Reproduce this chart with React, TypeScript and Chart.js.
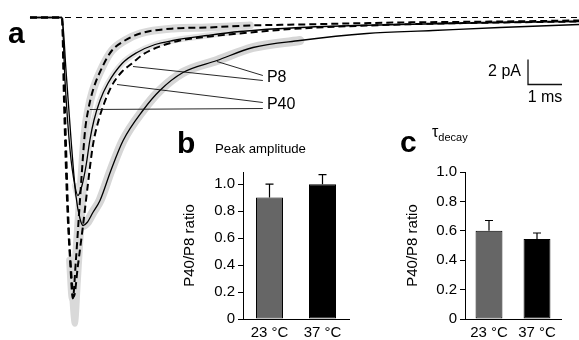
import React, { useEffect, useRef } from "react";
import { Chart, registerables } from "chart.js";
Chart.register(...registerables);

const FONT = "'Liberation Sans', Arial, Helvetica, sans-serif";

// ---------- Panel a: mean EPSC traces (time in ms from trace start, current in pA) ----------
// P8, 23 °C (solid, slow)
const p8At23T = [0, 0.94, 1.06, 1.21, 1.35, 1.47, 1.56, 1.68, 1.85, 2.06, 2.38, 2.74, 3.32, 3.82, 4.5, 5.5, 6.56, 7.94, 9.91, 11.85, 13.82, 16.15];
const p8At23I = [0, 0, -4.24, -9.84, -14.24, -16.08, -16.64, -16.4, -15.6, -14.64, -12.24, -9.84, -7.44, -5.84, -4.4, -3.44, -2.4, -1.84, -1.28, -1.04, -0.8, -0.56];
// P40, 23 °C (solid)
const p40At23T = [0, 0.94, 1.03, 1.18, 1.32, 1.41, 1.53, 1.65, 1.76, 1.88, 2.06, 2.29, 2.71, 3.15, 3.68, 4.21, 5.21, 6.18, 7.94, 10.88, 13.82, 16.15];
const p40At23I = [0, 0, -5.04, -10.64, -13.44, -14.24, -13.44, -11.84, -9.84, -8.24, -6.64, -5.28, -3.68, -2.8, -2.16, -1.84, -1.44, -1.12, -0.8, -0.56, -0.4, -0.32];
// P8, 37 °C (dashed)
const p8At37T = [0, 0.94, 1.03, 1.12, 1.21, 1.29, 1.41, 1.56, 1.71, 1.85, 2.0, 2.18, 2.41, 2.71, 3.0, 3.32, 3.82, 4.41, 5.29, 6.47, 7.94, 10.88, 13.82, 16.15];
const p8At37I = [0, 0, -7.44, -15.44, -20.24, -22.32, -19.84, -16.64, -13.2, -10.24, -8.4, -6.88, -5.44, -4.32, -3.68, -2.96, -2.32, -1.84, -1.52, -1.2, -0.88, -0.56, -0.4, -0.32];
// P40, 37 °C (dashed, fastest)
const p40At37T = [0, 0.94, 1.0, 1.09, 1.18, 1.26, 1.35, 1.44, 1.53, 1.62, 1.71, 1.85, 2.15, 2.41, 2.79, 3.24, 4.21, 5.21, 6.47, 7.94, 10.88, 13.82, 16.15];
const p40At37I = [0, 0, -6.64, -14.64, -19.44, -22.48, -19.44, -15.84, -12.24, -9.04, -7.44, -5.84, -3.84, -2.64, -1.84, -1.28, -0.88, -0.8, -0.64, -0.56, -0.4, -0.32, -0.24];
// SEM envelope tip of the 37 °C traces
const semTipT = [1.15, 1.22, 1.32, 1.41, 1.5, 1.6, 1.7];
const semTipI = [-17.5, -21.5, -24.5, -21.0, -17.0, -13.0, -9.5];
// SEM envelope extents (ms) for the shaded traces
const semEndP8At23 = 9.5;
const semEndP40At23 = 6.5;
const semEndP40At37 = 7.5;

const baselineT = [1.03, 16.15];
const baselineI = [0, 0];

const pointerNames = ["P8", "P40"];
const pointerLabelT = [6.97, 6.97];
const pointerLabelI = [-4.84, -6.96];
const p8PointerT = [[5.5, 6.85], [3.03, 6.85]];
const p8PointerI = [[-3.52, -4.64], [-3.92, -5.04]];
const p40PointerT = [[2.56, 6.85], [1.76, 6.85]];
const p40PointerI = [[-5.36, -6.8], [-7.36, -7.28]];

const scaleBarT = [14.65, 14.65, 15.65];
const scaleBarI = [-3.36, -5.36, -5.36];
const scaleBarLabels = ["2 pA", "1 ms"];

const timeRange = [-0.882, 16.15];
const currentRange = [-25.8, 1.4];

// ---------- Panels b, c ----------
const temps = ["23 °C", "37 °C"];
const peakRatio = [0.9, 1.0];
const peakErr = [0.1, 0.07];
const tauRatio = [0.6, 0.545];
const tauErr = [0.07, 0.04];
const ratioTicks = [0, 0.2, 0.4, 0.6, 0.8, 1.0];
const barColors = ["#666666", "#000000"];

const pts = (t: number[], i: number[]) => t.map((v, k) => ({ x: v, y: i[k] }));

function TraceChart() {
  const ref = useRef<HTMLCanvasElement>(null);
  useEffect(() => {
    if (!ref.current) return;
    const trace = (t: number[], i: number[], dashed: boolean) => ({
      data: pts(t, i),
      borderColor: "#000",
      borderWidth: dashed ? 2 : 1.3,
      borderDash: dashed ? [7, 4] : [],
      pointRadius: 0,
      fill: false,
      cubicInterpolationMode: "monotone" as const,
    });
    const band = (t: number[], i: number[], w: number, c: string, tEnd: number) => {
      const peakIdx = i.indexOf(Math.min(...i));
      const data = pts(t, i).filter((p, k) => k >= peakIdx - 1 && p.x <= tEnd);
      return {
        data,
        borderColor: c,
        borderWidth: w,
        pointRadius: 0,
        fill: false,
        borderCapStyle: "round" as const,
        borderJoinStyle: "round" as const,
        cubicInterpolationMode: "monotone" as const,
      };
    };
    const thin = (t: number[], i: number[], w: number, dash: number[] = [], c = "#111") => ({
      data: pts(t, i),
      borderColor: c,
      borderWidth: w,
      borderDash: dash,
      pointRadius: 0,
      fill: false,
      tension: 0,
    });
    const labelsPlugin = {
      id: "traceLabels",
      afterDraw(chart: any) {
        const { ctx, scales } = chart;
        const xs = scales.x, ys = scales.y;
        ctx.save();
        ctx.fillStyle = "#000";
        ctx.font = `16px ${FONT}`;
        ctx.textBaseline = "middle";
        ctx.textAlign = "left";
        pointerNames.forEach((n, k) => {
          ctx.fillText(n, xs.getPixelForValue(pointerLabelT[k]), ys.getPixelForValue(pointerLabelI[k]));
        });
        ctx.textAlign = "right";
        ctx.fillText(
          scaleBarLabels[0],
          xs.getPixelForValue(scaleBarT[0]) - 7,
          ys.getPixelForValue((scaleBarI[0] + scaleBarI[1]) / 2)
        );
        ctx.textAlign = "center";
        ctx.textBaseline = "top";
        ctx.fillText(
          scaleBarLabels[1],
          xs.getPixelForValue((scaleBarT[1] + scaleBarT[2]) / 2),
          ys.getPixelForValue(scaleBarI[1]) + 5
        );
        ctx.restore();
      },
    };
    const chart = new Chart(ref.current, {
      type: "line",
      data: {
        datasets: [
          thin(baselineT, baselineI, 1, [6, 5], "#000"),
          ...p8PointerT.map((t, k) => thin(t, p8PointerI[k], 0.9)),
          ...p40PointerT.map((t, k) => thin(t, p40PointerI[k], 0.9)),
          thin(scaleBarT, scaleBarI, 1.3),
          trace(p40At37T, p40At37I, true),
          trace(p8At37T, p8At37I, true),
          trace(p40At23T, p40At23I, false),
          trace(p8At23T, p8At23I, false),
          band(p8At23T, p8At23I, 9, "#d6d6d6", semEndP8At23),
          band(p40At23T, p40At23I, 6, "#e2e2e2", semEndP40At23),
          band(p40At37T, p40At37I, 8, "#d9d9d9", semEndP40At37),
          band(semTipT, semTipI, 6, "#d9d9d9", 99),
        ] as any,
      },
      options: {
        animation: false,
        responsive: false,
        devicePixelRatio: 1,
        layout: { padding: 0 },
        plugins: { legend: { display: false }, tooltip: { enabled: false } },
        scales: {
          x: { type: "linear", min: timeRange[0], max: timeRange[1], display: false },
          y: { type: "linear", min: currentRange[0], max: currentRange[1], display: false },
        },
      },
      plugins: [labelsPlugin],
    });
    return () => chart.destroy();
  }, []);
  return (
    <canvas
      ref={ref}
      width={579}
      height={340}
      style={{ position: "absolute", left: 0, top: 0, width: 579, height: 340 }}
    />
  );
}

type BarProps = {
  values: number[];
  errors: number[];
  yMax: number;
  left: number;
  top: number;
  width: number;
  height: number;
  axisWidth: number;
  axisHeight: number;
  padTop: number;
  padRight: number;
  titlePad: number;
  barPct: number;
};

function BarPanel(p: BarProps) {
  const ref = useRef<HTMLCanvasElement>(null);
  useEffect(() => {
    if (!ref.current) return;
    const errPlugin = {
      id: "errBars",
      afterDatasetsDraw(chart: any) {
        const { ctx } = chart;
        const meta = chart.getDatasetMeta(0);
        const ys = chart.scales.y;
        ctx.save();
        ctx.strokeStyle = "#000";
        ctx.lineWidth = 1.2;
        meta.data.forEach((el: any, k: number) => {
          const yTop = ys.getPixelForValue(p.values[k] + p.errors[k]);
          ctx.beginPath();
          ctx.moveTo(el.x, el.y);
          ctx.lineTo(el.x, yTop);
          ctx.moveTo(el.x - 4, yTop);
          ctx.lineTo(el.x + 4, yTop);
          ctx.stroke();
        });
        ctx.restore();
      },
    };
    const chart = new Chart(ref.current, {
      type: "bar",
      data: {
        labels: temps,
        datasets: [
          {
            data: p.values,
            backgroundColor: barColors,
            borderColor: "#000",
            borderWidth: 1,
            borderSkipped: false,
            barPercentage: p.barPct,
            categoryPercentage: 1,
          },
        ],
      },
      options: {
        animation: false,
        responsive: false,
        devicePixelRatio: 1,
        layout: { padding: { top: p.padTop, right: p.padRight, left: 0, bottom: 0 } },
        plugins: { legend: { display: false }, tooltip: { enabled: false } },
        scales: {
          x: {
            type: "category",
            offset: true,
            grid: { display: false, drawTicks: false },
            border: { display: true, color: "#000", width: 1 },
            ticks: { color: "#000", font: { family: FONT, size: 15 }, padding: 5, maxRotation: 0 },
            afterFit: (s: any) => {
              s.height = p.axisHeight;
            },
          },
          y: {
            type: "linear",
            min: 0,
            max: p.yMax,
            grid: { display: true, drawOnChartArea: false, drawTicks: true, tickLength: 5, color: "#000", lineWidth: 1 },
            border: { display: true, color: "#000", width: 1 },
            afterBuildTicks: (s: any) => {
              s.ticks = ratioTicks.map((v) => ({ value: v }));
            },
            ticks: {
              color: "#000",
              font: { family: FONT, size: 15 },
              padding: 3,
              callback: (v: any) => (Number(v) === 0 ? "0" : Number(v).toFixed(1)),
            },
            title: {
              display: true,
              text: "P40/P8 ratio",
              color: "#000",
              font: { family: FONT, size: 15 },
              padding: { top: p.titlePad, bottom: 0 },
            },
            afterFit: (s: any) => {
              s.width = p.axisWidth;
            },
          },
        },
      },
      plugins: [errPlugin],
    });
    return () => chart.destroy();
  }, []);
  return (
    <canvas
      ref={ref}
      width={p.width}
      height={p.height}
      style={{ position: "absolute", left: p.left, top: p.top, width: p.width, height: p.height }}
    />
  );
}

const txt = (extra: React.CSSProperties): React.CSSProperties => ({
  position: "absolute",
  fontFamily: FONT,
  color: "#000",
  whiteSpace: "nowrap",
  lineHeight: 1,
  ...extra,
});

export default function App() {
  return (
    <div
      style={{
        position: "fixed",
        left: 0,
        top: 0,
        width: 579,
        height: 340,
        background: "#fff",
        overflow: "hidden",
      }}
    >
      <TraceChart />
      <BarPanel
        values={peakRatio}
        errors={peakErr}
        yMax={1.09}
        left={170}
        top={160}
        width={185}
        height={180}
        axisWidth={73}
        axisHeight={21}
        padTop={8}
        padRight={6}
        titlePad={11}
        barPct={0.51}
      />
      <BarPanel
        values={tauRatio}
        errors={tauErr}
        yMax={1.0}
        left={395}
        top={160}
        width={184}
        height={180}
        axisWidth={70}
        axisHeight={21}
        padTop={7}
        padRight={18}
        titlePad={9}
        barPct={0.56}
      />
      <div style={txt({ left: 8, top: 18, fontSize: 30, fontWeight: 700 })}>a</div>
      <div style={txt({ left: 177, top: 128, fontSize: 30, fontWeight: 700 })}>b</div>
      <div style={txt({ left: 400, top: 127, fontSize: 30, fontWeight: 700 })}>c</div>
      <div style={txt({ left: 215, top: 142, fontSize: 13.2 })}>Peak amplitude</div>
      <div style={txt({ left: 432, top: 124, fontSize: 16 })}>
        τ<sub style={{ fontSize: 11, verticalAlign: "-4px" }}>decay</sub>
      </div>
    </div>
  );
}
